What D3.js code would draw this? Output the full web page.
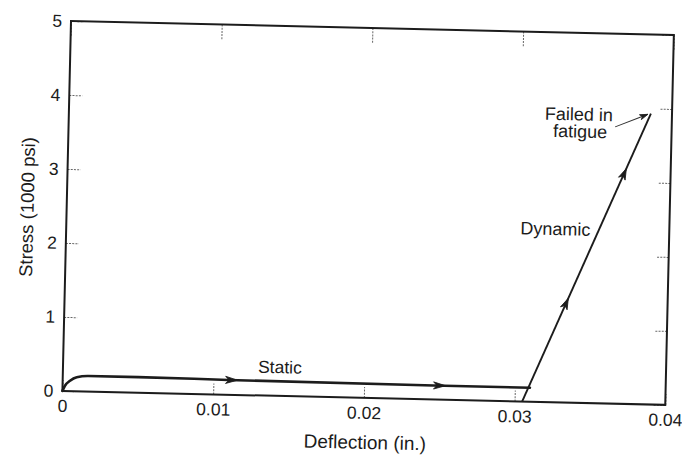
<!DOCTYPE html>
<html><head><meta charset="utf-8">
<script src="https://cdn.jsdelivr.net/npm/d3@7"></script>
<style>body{margin:0;background:#fff}</style>
</head><body><svg id="c" width="682" height="455"></svg>
<script>
const xTicks=[0,0.01,0.02,0.03,0.04];
const xTickLabels=["0","0.01","0.02","0.03","0.04"];
const yTicks=[0,1,2,3,4,5];
const yTickLabels=["0","1","2","3","4","5"];
const staticDeflection=[0,0.00016,0.00049,0.00093,0.0017,0.005,0.011,0.0246,0.031];
const staticStress=[0,0.07,0.14,0.19,0.21,0.21,0.2,0.19,0.19];
const dynamicDeflection=[0.0305,0.0386];
const dynamicStress=[0,3.93];
const staticArrowAt=[0.0116,0.0254];
const dynamicArrowAt=[1.41,3.18];
const failDeflection=[0.03625,0.03768,0.0384];
const failStress=[3.74,3.86,3.92];

const W=603,H=370;
const font="'Liberation Sans', Arial, sans-serif";
const ink="#1c1c1c";
const svg=d3.select("#c");
const g=svg.append("g").attr("transform","translate(71,21) rotate(1.33)");
const x=d3.scaleLinear().domain([0,0.04]).range([0,W]);
const y=d3.scaleLinear().domain([0,5]).range([H,0]);

function styleAxis(sel){
  sel.select(".domain").remove();
  sel.selectAll(".tick line").attr("stroke","#666").attr("stroke-width",1).attr("stroke-dasharray","2,1.2");
  sel.selectAll(".tick text").attr("fill",ink).style("font-family",font).style("font-size","17.5px");
}
const fmtX=d=>xTickLabels[xTicks.indexOf(d)];
const fmtY=d=>yTickLabels[yTicks.indexOf(d)];
g.append("g").attr("transform",`translate(0,${H})`)
 .call(d3.axisBottom(x).tickValues(xTicks).tickFormat(fmtX).tickSize(-11).tickPadding(8.5)).call(styleAxis);
g.append("g").call(d3.axisLeft(y).tickValues(yTicks).tickFormat(fmtY).tickSize(-13).tickPadding(9)).call(styleAxis);
g.append("g").call(d3.axisTop(x).tickValues(xTicks).tickFormat("").tickSize(-16)).call(styleAxis);
g.append("g").attr("transform",`translate(${W},0)`)
 .call(d3.axisRight(y).tickValues(yTicks).tickFormat("").tickSize(-12)).call(styleAxis);
g.selectAll(".tick text").attr("dy",function(){return d3.select(this).attr("dy");});

// frame
g.append("rect").attr("x",0).attr("y",0).attr("width",W).attr("height",H)
 .attr("fill","none").attr("stroke",ink).attr("stroke-width",2);

// static curve
const staticPts=staticDeflection.map((d,i)=>[d,staticStress[i]]);
const line=d3.line().x(d=>x(d[0])).y(d=>y(d[1]));
g.append("path").datum(staticPts).attr("d",line.curve(d3.curveMonotoneX))
 .attr("fill","none").attr("stroke",ink).attr("stroke-width",2.6).attr("stroke-linecap","round");
// dynamic line
const dynPts=dynamicDeflection.map((d,i)=>[d,dynamicStress[i]]);
g.append("path").datum(dynPts).attr("d",d3.line().x(d=>x(d[0])).y(d=>y(d[1])))
 .attr("fill","none").attr("stroke",ink).attr("stroke-width",1.9);

function arrow(px,py,ang,len,hw){
  g.append("path").attr("d",`M0,0 L${-len},${-hw} L${-len*0.72},0 L${-len},${hw} Z`)
   .attr("transform",`translate(${px},${py}) rotate(${ang})`).attr("fill",ink).attr("stroke",ink).attr("stroke-width",0.8).attr("stroke-linejoin","miter");
}
const staticInterp=d3.scaleLinear().domain(staticDeflection).range(staticStress);
staticArrowAt.forEach(d=>{
  const d2=d-0.0005;
  const ang=Math.atan2(y(staticInterp(d))-y(staticInterp(d2)),x(d)-x(d2))*180/Math.PI;
  arrow(x(d),y(staticInterp(d)),ang,12,3.6);
});
const dynInterp=d3.scaleLinear().domain(dynamicStress).range(dynamicDeflection);
const dynAng=Math.atan2(y(dynamicStress[1])-y(dynamicStress[0]),x(dynamicDeflection[1])-x(dynamicDeflection[0]))*180/Math.PI;
dynamicArrowAt.forEach(s=>arrow(x(dynInterp(s)),y(s),dynAng,11,3.6));

// failed arrow
const failPts=failDeflection.map((d,i)=>[d,failStress[i]]);
g.append("path").datum(failPts).attr("d",d3.line().x(d=>x(d[0])).y(d=>y(d[1])).curve(d3.curveNatural))
 .attr("fill","none").attr("stroke","#333").attr("stroke-width",1);
{
  const n=failPts.length;
  const a=failPts[n-2],b=failPts[n-1];
  const ang=Math.atan2(y(b[1])-y(a[1]),x(b[0])-x(a[0]))*180/Math.PI;
  arrow(x(b[0]),y(b[1]),ang,8,2.6);
}

// annotations
function label(t,xv,yv,size,anchor){
  g.append("text").attr("x",x(xv)).attr("y",y(yv)).attr("text-anchor",anchor||"middle")
   .attr("fill",ink).style("font-family",font).style("font-size",size+"px").text(t);
}
label("Static",0.01439,0.307,17.5);
label("Dynamic",0.03244,2.26,18);
label("Failed in",0.03383,3.816,18);
label("fatigue",0.03394,3.585,18);

// axis titles
g.append("text").attr("x",W/2+2).attr("y",421).attr("text-anchor","middle")
 .attr("fill",ink).style("font-family",font).style("font-size","19px").text("Deflection (in.)");
g.append("text").attr("transform","translate(-33,187) rotate(-90)").attr("text-anchor","middle")
 .attr("fill",ink).style("font-family",font).style("font-size","18.5px").text("Stress (1000 psi)");
</script></body></html>
